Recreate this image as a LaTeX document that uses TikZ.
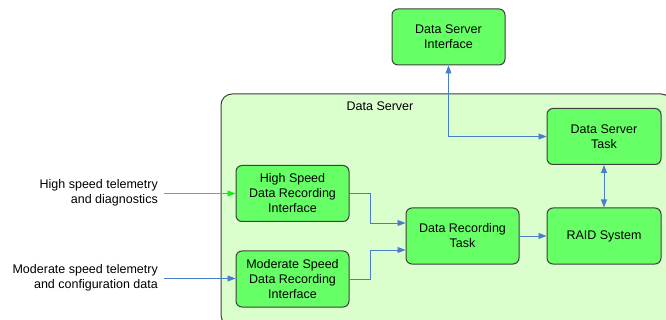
\documentclass[tikz,border=0pt]{standalone}
\usepackage{fontspec}
\setmainfont{Liberation Sans}
\usetikzlibrary{arrows.meta}
\definecolor{boxfill}{HTML}{66FF66}
\definecolor{boxline}{HTML}{404040}
\definecolor{contfill}{HTML}{DAFFCC}
\definecolor{flowblue}{HTML}{4A7ECC}
\definecolor{flowgreen}{HTML}{11EE11}
\tikzset{
  block/.style={draw=boxline, fill=boxfill, line width=1pt, rounded corners=6pt,
    minimum width=113pt, minimum height=56pt, inner sep=2pt, align=center,
    font=\fontsize{12.5}{15}\selectfont},
  lbl/.style={align=right, anchor=east, inner sep=0pt, font=\fontsize{12.5}{15}\selectfont},
  flow/.style={draw=flowblue, line width=0.9pt, -{Triangle[length=8pt,width=6pt]}},
  bflow/.style={draw=flowblue, line width=0.9pt, {Triangle[length=8pt,width=6pt]}-{Triangle[length=8pt,width=6pt]}},
  gflow/.style={draw=flowgreen, line width=0.9pt, -{Triangle[length=8pt,width=6pt]}}
}
\begin{document}
\begin{tikzpicture}[x=1pt,y=-1pt]
\clip (0,0) rectangle (666,320);
\fill[white] (0,0) rectangle (666,320);
\draw[boxline, fill=contfill, line width=1pt, rounded corners=11pt] (221,94) rectangle (672,326);
\node[font=\fontsize{12.5}{15}\selectfont] (dslabel) at (380,106) {Data Server};

\node[block] (dsi) at (448.5,37) {Data Server\\Interface};
\node[block, minimum width=114pt] (dst) at (604,136.5) {Data Server\\Task};
\node[block, minimum width=114pt] (raid) at (604,236) {RAID System};
\node[block] (drt) at (462.5,236) {Data Recording\\Task};
\node[block] (hs) at (292.5,193.5) {High Speed\\Data Recording\\Interface};
\node[block] (ms) at (292.5,279) {Moderate Speed\\Data Recording\\Interface};

\node[lbl] (hslbl) at (158,193) {High speed telemetry\\and diagnostics};
\node[lbl] (mslbl) at (158,278) {Moderate speed telemetry\\and configuration data};

\draw[gflow] (hslbl.east -| 164,0) ++(0,0.5) coordinate (g0) -- (g0 -| hs.west);
\draw[flow] (mslbl.east -| 164,0) ++(0,0.5) coordinate (b0) -- (b0 -| ms.west);

\draw[flow] (hs.east) -| (370,223) -- (drt.west |- 0,223);
\draw[flow] (ms.east) -| (370,250) -- (drt.west |- 0,250);
\draw[flow] (drt.east) -- (raid.west);
\draw[bflow] (dst.south) -- (raid.north);
\draw[bflow] (dsi.south) |- (dst.west);
\end{tikzpicture}
\end{document}
